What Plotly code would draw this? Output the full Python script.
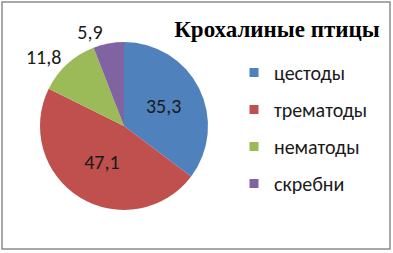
import plotly.graph_objects as go

categories = ["цестоды", "трематоды", "нематоды", "скребни"]
values = [35.3, 47.1, 11.8, 5.9]
colors = ["#4F81BD", "#C0504D", "#9BBB59", "#8064A2"]
title_text = "Крохалиные птицы"

labels_txt = [f"{v:.1f}".replace(".", ",") for v in values]

W, H = 393, 253
fig = go.Figure()
fig.add_trace(go.Pie(
    labels=categories, values=values, text=labels_txt,
    textinfo="text", sort=False, direction="clockwise", rotation=0,
    marker=dict(colors=colors, line=dict(width=0)),
    textposition=["inside", "inside", "outside", "outside"],
    insidetextorientation="horizontal",
    textfont=dict(family="Carlito, Open Sans", size=20, color="#1a1a1a"),
    domain=dict(x=[40/W, 208/W], y=[1-210/H, 1-42/H]),
    showlegend=False, hoverinfo="label+value",
))
for c, col in zip(categories, colors):
    fig.add_trace(go.Scatter(
        x=[None], y=[None], mode="markers", name=c, legendgroup=c,
        marker=dict(symbol="square", size=9, color=col),
        showlegend=True,
    ))

fig.update_layout(
    width=W, height=H,
    margin=dict(l=0, r=0, t=0, b=0),
    paper_bgcolor="white", plot_bgcolor="white",
    xaxis=dict(visible=False), yaxis=dict(visible=False),
    title=dict(text=f"<b>{title_text}</b>", x=277/W, xanchor="center",
               y=1-29/H, yanchor="middle",
               font=dict(family="Liberation Serif, Times New Roman, serif", size=23, color="#000")),
    legend=dict(x=234/W, xanchor="left", y=1-53/H, yanchor="top",
                tracegroupgap=8, bgcolor="rgba(0,0,0,0)",
                font=dict(family="Carlito, Open Sans", size=20, color="#1a1a1a")),
    shapes=[dict(type="rect", xref="paper", yref="paper",
                 x0=2/W, x1=390/W, y0=1-249/H, y1=1-2/H,
                 line=dict(color="#8c8c8c", width=1.5))],
)
fig.write_html("out.html", config={"displayModeBar": False},
               post_script="document.body.style.margin='0';document.body.style.padding='0';")
